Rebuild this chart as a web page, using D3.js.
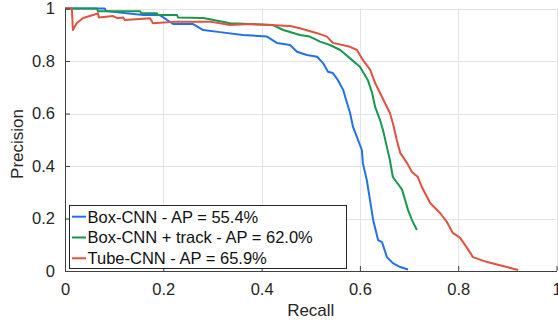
<!DOCTYPE html>
<html>
<head>
<meta charset="utf-8">
<script src="https://cdn.jsdelivr.net/npm/d3@7"></script>
<style>
  body { margin: 0; background: #fff; }
  svg { display: block; font-family: "Liberation Sans", Arial, Helvetica, sans-serif; }
</style>
</head>
<body>
<div id="chart"></div>
<script>
// precision-recall points
const boxRecall = [0, 0.081, 0.083, 0.159, 0.193, 0.22, 0.26, 0.281, 0.315, 0.362, 0.411, 0.431, 0.458, 0.472, 0.492, 0.513, 0.525, 0.535, 0.545, 0.555, 0.566, 0.57, 0.58, 0.586, 0.594, 0.604, 0.606, 0.614, 0.627, 0.637, 0.645, 0.655, 0.667, 0.682, 0.698];
const boxPrec = [1, 1, 0.99, 0.975, 0.975, 0.941, 0.941, 0.918, 0.91, 0.899, 0.893, 0.869, 0.861, 0.835, 0.823, 0.816, 0.792, 0.759, 0.754, 0.728, 0.69, 0.664, 0.602, 0.549, 0.51, 0.461, 0.411, 0.347, 0.194, 0.118, 0.11, 0.053, 0.03, 0.015, 0.006];

const trackRecall = [0, 0.065, 0.067, 0.153, 0.155, 0.187, 0.189, 0.228, 0.23, 0.281, 0.295, 0.336, 0.423, 0.444, 0.478, 0.498, 0.519, 0.539, 0.56, 0.58, 0.6, 0.616, 0.625, 0.631, 0.641, 0.647, 0.655, 0.661, 0.667, 0.682, 0.686, 0.692, 0.698, 0.706, 0.716];
const trackPrec = [1, 1, 0.99, 0.99, 0.982, 0.982, 0.975, 0.975, 0.966, 0.964, 0.959, 0.944, 0.937, 0.918, 0.899, 0.893, 0.874, 0.861, 0.842, 0.81, 0.778, 0.728, 0.678, 0.625, 0.575, 0.537, 0.472, 0.423, 0.358, 0.32, 0.309, 0.27, 0.232, 0.194, 0.156];

const tubeRecall = [0, 0.014, 0.016, 0.024, 0.037, 0.057, 0.067, 0.069, 0.098, 0.106, 0.118, 0.122, 0.173, 0.179, 0.228, 0.295, 0.336, 0.376, 0.417, 0.458, 0.478, 0.513, 0.533, 0.545, 0.58, 0.594, 0.606, 0.621, 0.631, 0.641, 0.651, 0.661, 0.667, 0.675, 0.682, 0.696, 0.706, 0.718, 0.726, 0.743, 0.763, 0.777, 0.789, 0.804, 0.818, 0.83, 0.859, 0.899, 0.922];
const tubePrec = [1, 1, 0.918, 0.945, 0.964, 0.975, 0.982, 0.966, 0.971, 0.963, 0.966, 0.956, 0.963, 0.944, 0.95, 0.95, 0.937, 0.941, 0.937, 0.933, 0.925, 0.906, 0.893, 0.869, 0.854, 0.842, 0.804, 0.766, 0.716, 0.678, 0.64, 0.602, 0.564, 0.499, 0.45, 0.411, 0.377, 0.358, 0.32, 0.259, 0.221, 0.187, 0.145, 0.126, 0.088, 0.053, 0.034, 0.015, 0.004];

const seriesNames = ['Box-CNN - AP = 55.4%', 'Box-CNN + track - AP = 62.0%', 'Tube-CNN - AP = 65.9%'];
const tickValues = [0, 0.2, 0.4, 0.6, 0.8, 1];

const width = 558, height = 321;
const margin = { top: 8.5, right: 1.5, bottom: 50, left: 65 };

const series = [
  { name: seriesNames[0], color: '#2371ea', r: boxRecall, p: boxPrec },
  { name: seriesNames[1], color: '#16994f', r: trackRecall, p: trackPrec },
  { name: seriesNames[2], color: '#e15140', r: tubeRecall, p: tubePrec }
];

const svg = d3.select('#chart').append('svg')
  .attr('width', width)
  .attr('height', height);

const x = d3.scaleLinear().domain([0, 1]).range([margin.left, width - margin.right]);
const y = d3.scaleLinear().domain([0, 1]).range([height - margin.bottom, margin.top]);

// grid
const grid = svg.append('g').attr('stroke', '#e3e3e3').attr('stroke-width', 1);
grid.selectAll('.gx').data(tickValues.slice(1)).enter().append('line')
  .attr('x1', d => Math.round(x(d)) + 0.5).attr('x2', d => Math.round(x(d)) + 0.5)
  .attr('y1', y(0)).attr('y2', y(1));
grid.selectAll('.gy').data(tickValues.slice(1)).enter().append('line')
  .attr('y1', d => Math.round(y(d)) + 0.5).attr('y2', d => Math.round(y(d)) + 0.5)
  .attr('x1', x(0)).attr('x2', x(1));

// curves
const line = d3.line().x(d => x(d[0])).y(d => y(d[1]));
series.forEach(s => {
  svg.append('path')
    .datum(d3.zip(s.r, s.p))
    .attr('fill', 'none')
    .attr('stroke', s.color)
    .attr('stroke-width', 2)
    .attr('stroke-linejoin', 'round')
    .attr('d', line);
});

// axes (inside ticks, matlab style)
const axisColor = '#404040';
const xAxis = svg.append('g')
  .attr('transform', `translate(0,${y(0)})`)
  .call(d3.axisBottom(x).tickValues(tickValues).tickFormat(d3.format('')).tickSizeInner(-5).tickSizeOuter(0).tickPadding(12));
const yAxis = svg.append('g')
  .attr('transform', `translate(${x(0)},0)`)
  .call(d3.axisLeft(y).tickValues(tickValues).tickFormat(d3.format('')).tickSizeInner(-5).tickSizeOuter(0).tickPadding(10));

[xAxis, yAxis].forEach(a => {
  a.select('.domain').attr('stroke', axisColor);
  a.selectAll('.tick line').attr('stroke', axisColor);
  a.selectAll('.tick text').attr('fill', '#262626').style('font-size', '16.5px');
});

svg.append('text')
  .attr('x', (x(0) + x(1)) / 2)
  .attr('y', 316)
  .attr('text-anchor', 'middle')
  .attr('fill', '#262626')
  .style('font-size', '17px')
  .text('Recall');

svg.append('text')
  .attr('transform', `translate(23,${144}) rotate(-90)`)
  .attr('text-anchor', 'middle')
  .attr('fill', '#262626')
  .style('font-size', '17px')
  .text('Precision');

// legend
const legend = svg.append('g');
legend.append('rect')
  .attr('x', 69.5).attr('y', 205.5)
  .attr('width', 277).attr('height', 63)
  .attr('fill', '#fff')
  .attr('stroke', '#262626')
  .attr('stroke-width', 1);

const rows = legend.selectAll('.row').data(series).enter().append('g')
  .attr('transform', (d, i) => `translate(0,${216.7 + i * 20.8})`);
rows.append('line')
  .attr('x1', 72).attr('x2', 86)
  .attr('stroke', d => d.color).attr('stroke-width', 2);
rows.append('text')
  .attr('x', 87.5)
  .attr('dy', '0.36em')
  .attr('fill', '#111')
  .style('font-size', '16.5px')
  .text(d => d.name);
</script>
</body>
</html>
